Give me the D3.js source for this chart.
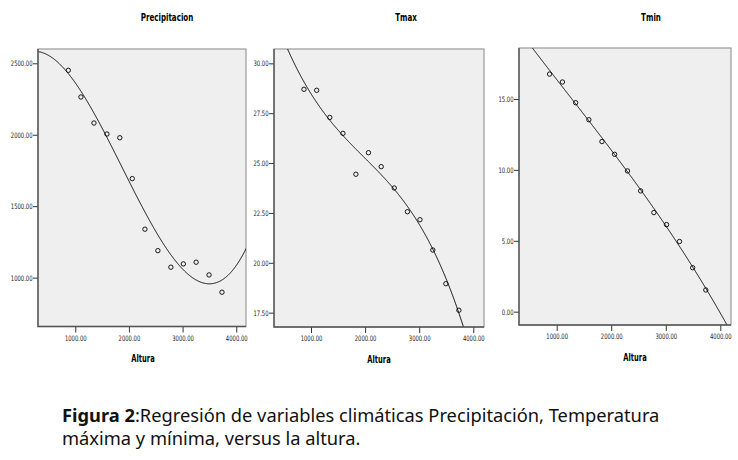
<!DOCTYPE html>
<html>
<head>
<meta charset="utf-8">
<script src="https://cdn.jsdelivr.net/npm/d3@7"></script>
<style>
body { margin: 0; background: #fff; }
.tick text { font-family: "DejaVu Sans Condensed", "DejaVu Sans", sans-serif; font-stretch: condensed; font-size: 7.5px; fill: #222; }
.tick line { stroke: #333; }
.ptitle, .xlab { font-family: "DejaVu Sans Condensed", "DejaVu Sans", sans-serif; font-stretch: condensed; font-weight: bold; font-size: 11px; fill: #000; }
.caption { font-family: "Noto Sans", "Open Sans", sans-serif; font-size: 18.3px; fill: #111; }
</style>
</head>
<body>
<svg id="chart" width="738" height="460"></svg>
<script>
// altitudes (same stations in the three panels)
const altura = [870, 1105, 1348, 1590, 1830, 2062, 2298, 2539, 2782, 3014, 3252, 3493, 3734];
const precipitacion = [2451, 2264, 2082, 2005, 1979, 1693, 1339, 1189, 1073, 1096, 1108, 1019, 898];
const tmax = [28.70, 28.65, 27.29, 26.49, 24.44, 25.52, 24.82, 23.75, 22.56, 22.16, 20.64, 18.95, 17.62];
const tmin = [16.76, 16.20, 14.74, 13.54, 12.00, 11.10, 9.93, 8.52, 6.99, 6.14, 4.95, 3.10, 1.53];

const xTicks = [1000, 2000, 3000, 4000];
const precTicks = [1000, 1500, 2000, 2500];
const tmaxTicks = [17.5, 20, 22.5, 25, 27.5, 30];
const tminTicks = [0, 5, 10, 15];

const panels = [
  {title: "Precipitacion", y: precipitacion, deg: 3, yTicks: precTicks,
   xDom: [305, 4182], yDom: [658, 2600], box: [38, 49, 246, 326.5], tx: 167, lx: 143},
  {title: "Tmax", y: tmax, deg: 3, yTicks: tmaxTicks,
   xDom: [316, 4198], yDom: [16.78, 30.72], box: [274, 49, 484, 327], tx: 406, lx: 379},
  {title: "Tmin", y: tmin, deg: 3, yTicks: tminTicks,
   xDom: [309, 4196], yDom: [-0.94, 18.6], box: [519, 48, 731, 325], tx: 651, lx: 635}
];

// least squares polynomial fit (curve estimation like SPSS)
function polyfit(xs, ys, deg) {
  const n = deg + 1;
  const A = Array.from({length: n}, () => new Array(n + 1).fill(0));
  xs.forEach((x, i) => {
    const t = x / 1000;
    for (let r = 0; r < n; r++) {
      for (let c = 0; c < n; c++) A[r][c] += Math.pow(t, r + c);
      A[r][n] += ys[i] * Math.pow(t, r);
    }
  });
  for (let k = 0; k < n; k++) {
    let p = k;
    for (let r = k + 1; r < n; r++) if (Math.abs(A[r][k]) > Math.abs(A[p][k])) p = r;
    [A[k], A[p]] = [A[p], A[k]];
    for (let r = k + 1; r < n; r++) {
      const f = A[r][k] / A[k][k];
      for (let c = k; c <= n; c++) A[r][c] -= f * A[k][c];
    }
  }
  const b = new Array(n).fill(0);
  for (let k = n - 1; k >= 0; k--) {
    let s = A[k][n];
    for (let c = k + 1; c < n; c++) s -= A[k][c] * b[c];
    b[k] = s / A[k][k];
  }
  return x => { const t = x / 1000; return b.reduce((s, bk, k) => s + bk * Math.pow(t, k), 0); };
}

const svg = d3.select("#chart");
const fmt = d3.format(".2f");

panels.forEach((p, i) => {
  const [x0, y0, x1, y1] = p.box;
  const x = d3.scaleLinear(p.xDom, [x0, x1]);
  const y = d3.scaleLinear(p.yDom, [y1, y0]);
  const g = svg.append("g");

  g.append("rect")
    .attr("x", x0).attr("y", y0)
    .attr("width", x1 - x0).attr("height", y1 - y0)
    .attr("fill", "#efefef").attr("stroke", "#999").attr("stroke-width", 1.2);

  g.append("clipPath").attr("id", "clip" + i)
    .append("rect").attr("x", x0).attr("y", y0)
    .attr("width", x1 - x0).attr("height", y1 - y0);

  const fit = polyfit(altura, p.y, p.deg);
  const xs = d3.range(p.xDom[0], p.xDom[1] + 5, 5);
  g.append("path")
    .datum(xs)
    .attr("clip-path", "url(#clip" + i + ")")
    .attr("fill", "none").attr("stroke", "#000").attr("stroke-width", 1)
    .attr("d", d3.line().x(d => x(d)).y(d => y(fit(d))));

  g.selectAll("circle").data(altura).join("circle")
    .attr("cx", d => x(d)).attr("cy", (d, j) => y(p.y[j]))
    .attr("r", 2.2).attr("fill", "none").attr("stroke", "#000").attr("stroke-width", 0.9);

  g.append("g").attr("transform", `translate(0,${y1})`)
    .call(d3.axisBottom(x).tickValues(xTicks).tickFormat(fmt).tickSize(6).tickPadding(3))
    .call(a => a.select(".domain").remove())
    .call(a => a.selectAll("text").attr("transform", "scale(0.78,1)"));
  g.append("g").attr("transform", `translate(${x0},0)`)
    .call(d3.axisLeft(y).tickValues(p.yTicks).tickFormat(fmt).tickSize(5).tickPadding(0))
    .call(a => a.select(".domain").remove())
    .call(a => a.selectAll("text").attr("transform", "scale(0.78,1)").attr("x", -7));

  // darker left and bottom frame lines
  g.append("path")
    .attr("d", `M${x0},${y0}V${y1}H${x1}`)
    .attr("fill", "none").attr("stroke", "#555").attr("stroke-width", 1.4);

  g.append("text").attr("class", "ptitle")
    .attr("transform", `translate(${p.tx},20.5) scale(0.72,1)`)
    .attr("text-anchor", "middle").text(p.title);
  g.append("text").attr("class", "xlab")
    .attr("transform", `translate(${p.lx},${y1 + 35.5}) scale(0.68,1)`)
    .attr("text-anchor", "middle").text("Altura");
});

const cap = svg.append("text").attr("class", "caption").attr("x", 62).attr("y", 422);
cap.append("tspan").attr("font-weight", "bold").text("Figura 2");
cap.append("tspan").text(":Regresión de variables climáticas Precipitación, Temperatura");
svg.append("text").attr("class", "caption").attr("x", 62).attr("y", 445)
  .text("máxima y mínima, versus la altura.");
</script>
</body>
</html>
